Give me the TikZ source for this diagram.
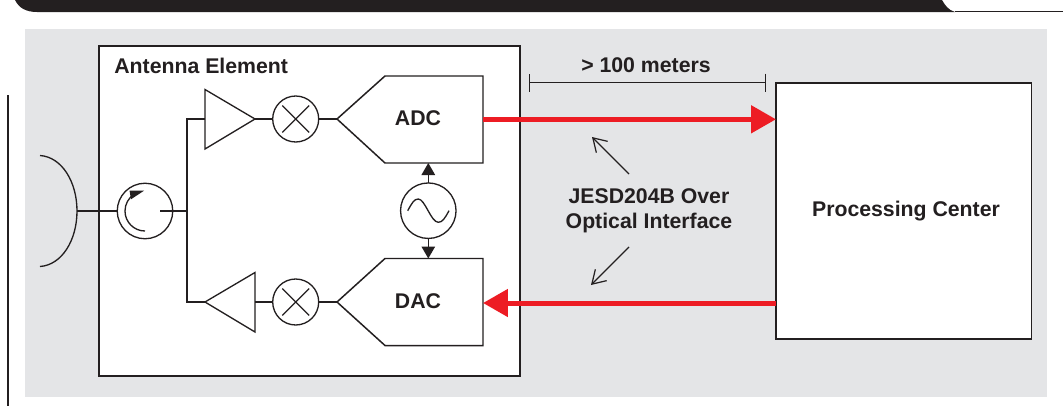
\documentclass[tikz,border=0pt]{standalone}
\usepackage{fontspec}
\setmainfont{Liberation Sans}
\usepackage{xcolor}
\usetikzlibrary{arrows.meta,calc}
\definecolor{Ink}{HTML}{231F20}
\definecolor{Panel}{HTML}{E4E5E7}
\definecolor{Fiber}{HTML}{ED1C24}

\begin{document}
\begin{tikzpicture}[x=0.02cm,y=-0.02cm,
  wire/.style={draw=Ink,line width=0.75pt},
  frame/.style={draw=Ink,line width=0.85pt,fill=white},
  disc/.style={circle,draw=Ink,line width=0.75pt,fill=white,inner sep=0pt,outer sep=0pt},
  title/.style={text=Ink,font=\fontsize{12.1}{14.1}\selectfont\bfseries,align=center,inner sep=0pt},
  fiber/.style={draw=Fiber,line width=0.1cm,-{Triangle[length=0.5cm,width=0.54cm]}},
  pointer/.style={draw=Ink,line width=0.7pt,-{Straight Barb[length=0.26cm,width=0.32cm]}},
  lo/.style={wire,-{Triangle[length=0.24cm,width=0.27cm]}}]
  \useasboundingbox (0,0) rectangle (1063,406);
  % header and side rule
  \fill[Ink] (15,0) .. controls (19,8) and (26,12) .. (37,12) -- (955,12)
    .. controls (948,10) and (945,5) .. (942,0) -- cycle;
  \coordinate (headl) at (955,11.5);
  \coordinate (headr) at (1063,11.5);
  \draw[wire] (headl) -- (headr);
  \coordinate (rulet) at (8,95);
  \coordinate (ruleb) at (8,406);
  \draw[wire] (rulet) -- (ruleb);
  % panel and boxes
  \fill[Panel] (25,29) rectangle (1047,397);
  \draw[frame] (99,46) rectangle (520,376);
  \node[frame,minimum width=5.11cm,minimum height=5.12cm,inner sep=0pt,outer sep=0pt] (center) at (903.8,211) {};
  \node[title] (centerlabel) at (906,211) {Processing Center};
  \node[title,anchor=west] (antlabel) at (114,66) {Antenna Element};
  % antenna
  \coordinate (dish) at (77,211);
  \draw[wire] (40,155.5) .. controls (62,157) and (77,182) .. (dish)
    .. controls (77,240) and (62,265) .. (40,266.5);
  % circulator
  \node[disc,minimum size=1.11cm] (circ) at (145,211) {};
  \draw[wire] (dish) -- (circ);
  \draw[wire] ([shift={(0,20)}]circ.center) arc[start angle=90,end angle=238,radius=20];
  \fill[Ink] (129.5,190.5) -- (144,190.7) -- (131,199.3) -- cycle;
  \coordinate (branch) at (187,211);
  \coordinate (stub) at (160,211);
  \draw[wire,line width=1pt] (stub) -- (branch);
  % amplifiers
  \coordinate (ampupin) at (205,119);
  \coordinate (ampupout) at (255,119);
  \coordinate (ampdnin) at (255,302);
  \coordinate (ampdnout) at (205,302);
  \draw[wire,fill=white] (205,89.5) -- (ampupout) -- (205,149) -- cycle;
  \draw[wire,fill=white] (255,272.5) -- (ampdnout) -- (255,332) -- cycle;
  \draw[wire] (ampupin) -| (branch) |- (ampdnout);
  % mixers
  \node[disc,minimum size=0.92cm] (mixup) at (295.7,119) {};
  \node[disc,minimum size=0.92cm] (mixdn) at (295.7,302) {};
  \foreach \m in {mixup,mixdn}
    \foreach \a in {45,135}
      \draw[wire] ([shift={(\a:19)}]\m.center) -- ([shift={(\a+180:19)}]\m.center);
  \draw[wire] (ampupout) -- (mixup);
  \draw[wire] (ampdnin) -- (mixdn);
  % converters
  \coordinate (adctip) at (337,119);
  \coordinate (dactip) at (337,302);
  \draw[frame] (adctip) -- (385,76) -- (483,76) -- (483,163) -- (385,163) -- cycle;
  \draw[frame] (dactip) -- (385,258.5) -- (483,258.5) -- (483,345.5) -- (385,345.5) -- cycle;
  \node[title] (adc) at (418,118.5) {ADC};
  \node[title] (dac) at (418,301.5) {DAC};
  \draw[wire] (mixup) -- (adctip);
  \draw[wire] (mixdn) -- (dactip);
  % oscillator
  \node[disc,minimum size=1.11cm] (osc) at (428.3,210.7) {};
  \coordinate (oscup) at (428.3,163);
  \coordinate (oscdn) at (428.3,258.5);
  \draw[lo] (osc) -- (oscup);
  \draw[lo] (osc) -- (oscdn);
  \draw[wire] (407.7,210.7) .. controls (412,203) and (414,199) .. (418.3,199)
    .. controls (425,199) and (431,222.3) .. (438.3,222.3)
    .. controls (442.6,222.3) and (445,218) .. (449,210.7);
  % fiber links
  \coordinate (centerin) at (776,119.3);
  \coordinate (centerout) at (776,303);
  \coordinate (dacin) at (483,303);
  \coordinate (adcred) at (483,119.3);
  \draw[fiber] (adcred) -- (centerin);
  \draw[fiber] (centerout) -- (dacin);
  % span
  \coordinate (spanl) at (528.7,82.7);
  \coordinate (spanr) at (766,82.7);
  \draw[wire,{Bar[width=0.36cm]}-{Bar[width=0.36cm]}] (spanl) -- (spanr);
  \node[title] (span) at (646,65) {> 100 meters};
  % interface label
  \node[title] (jesd) at (649,211) {JESD204B Over\\Optical Interface};
  \coordinate (jesdup) at (629,174);
  \coordinate (tipup) at (592,137);
  \coordinate (jesddn) at (629,247);
  \coordinate (tipdn) at (591,285);
  \draw[pointer] (jesdup) -- (tipup);
  \draw[pointer] (jesddn) -- (tipdn);
\end{tikzpicture}
\end{document}
